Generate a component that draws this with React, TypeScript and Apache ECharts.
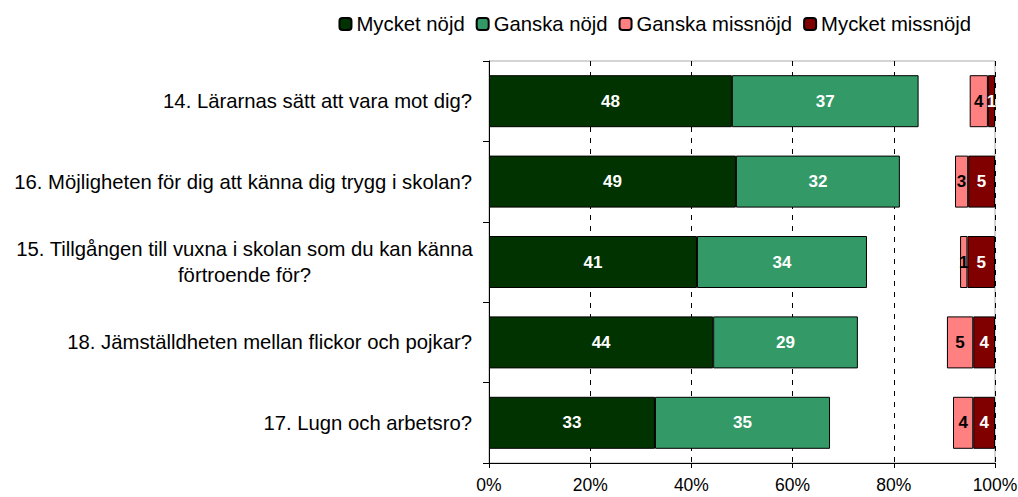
import React, { useEffect, useRef } from "react";
import * as echarts from "echarts";

const categories = [
  "14. Lärarnas sätt att vara mot dig?",
  "16. Möjligheten för dig att känna dig trygg i skolan?",
  "15. Tillgången till vuxna i skolan som du kan känna\nförtroende för?",
  "18. Jämställdheten mellan flickor och pojkar?",
  "17. Lugn och arbetsro?",
];
const mycketNojd = [48.0, 48.8, 41.1, 44.3, 32.8];
const ganskaNojd = [36.9, 32.4, 33.6, 28.6, 34.6];
const ganskaMissnojd = [3.6, 2.6, 1.45, 5.2, 4.0];
const mycketMissnojd = [1.4, 5.3, 5.45, 4.3, 4.3];
const xTicks = [0, 20, 40, 60, 80, 100];

const FONT = "'Liberation Sans', Arial, sans-serif";

export default function App() {
  const ref = useRef<HTMLDivElement>(null);
  useEffect(() => {
    if (!ref.current) return;
    const chart = echarts.init(ref.current, undefined, { renderer: "svg" });
    const gap = categories.map(
      (_, i) => 100 - mycketNojd[i] - ganskaNojd[i] - ganskaMissnojd[i] - mycketMissnojd[i]
    );
    const lbl = (color: string) => ({
      show: true,
      position: "inside",
      color,
      fontWeight: "bold",
      fontSize: 17,
      fontFamily: FONT,
      formatter: (p: any) => String(Math.round(p.value)),
    });
    const border = { borderColor: "#000", borderWidth: 1 };
    chart.setOption({
      animation: false,
      textStyle: { fontFamily: FONT },
      legend: {
        data: ["Mycket nöjd", "Ganska nöjd", "Ganska missnöjd", "Mycket missnöjd"],
        top: 9,
        right: 42,
        itemWidth: 12,
        itemHeight: 12,
        itemGap: 11,
        textStyle: { fontSize: 20.3, color: "#000", fontFamily: FONT, padding: [0, 0, 0, 0] },
      },
      grid: {
        left: 489,
        right: 23,
        top: 61,
        bottom: 34,
        show: true,
        borderColor: "#aaa",
        borderWidth: 1,
        outerBoundsMode: "none",
        containLabel: false,
      },
      xAxis: {
        type: "value",
        min: xTicks[0],
        max: xTicks[xTicks.length - 1],
        interval: 20,
        axisLine: { show: true, lineStyle: { color: "#000" } },
        axisTick: { show: true, length: 5, lineStyle: { color: "#000" } },
        axisLabel: {
          formatter: "{value}%",
          fontSize: 17.5,
          color: "#000",
          fontFamily: FONT,
          margin: 13,
        },
        splitLine: { show: true, lineStyle: { color: "#000", type: [5, 6] } },
      },
      yAxis: {
        type: "category",
        data: categories,
        inverse: true,
        axisLine: { show: true, lineStyle: { color: "#000" } },
        axisTick: { show: true, length: 6, lineStyle: { color: "#000" } },
        axisLabel: {
          fontSize: 20.3,
          color: "#000",
          fontFamily: FONT,
          margin: 17,
          lineHeight: 26,
          formatter: (v: string) =>
            v.includes("\n")
              ? v
                  .split("\n")
                  .map((s) => `{c|${s}}`)
                  .join("\n")
              : v,
          rich: {
            c: { width: 455, align: "center", fontSize: 20.3, lineHeight: 26, fontFamily: FONT, color: "#000" },
          },
        },
      },
      series: [
        {
          name: "Mycket nöjd",
          type: "bar",
          stack: "all",
          barWidth: 52,
          data: mycketNojd,
          itemStyle: { color: "#003300", ...border },
          label: lbl("#fff"),
        },
        {
          name: "Ganska nöjd",
          type: "bar",
          stack: "all",
          data: ganskaNojd,
          itemStyle: { color: "#339966", ...border },
          label: lbl("#fff"),
        },
        {
          name: "gap",
          type: "bar",
          stack: "all",
          data: gap,
          itemStyle: { color: "transparent", borderWidth: 0 },
          label: { show: false },
          silent: true,
        },
        {
          name: "Ganska missnöjd",
          type: "bar",
          stack: "all",
          data: ganskaMissnojd,
          itemStyle: { color: "#FF8080", ...border },
          label: lbl("#000"),
        },
        {
          name: "Mycket missnöjd",
          type: "bar",
          stack: "all",
          data: mycketMissnojd,
          itemStyle: { color: "#800000", ...border },
          label: lbl("#fff"),
        },
      ],
    });
    return () => chart.dispose();
  }, []);
  return <div ref={ref} style={{ width: 1018, height: 497, position: "absolute", left: 0, top: 0 }} />;
}
